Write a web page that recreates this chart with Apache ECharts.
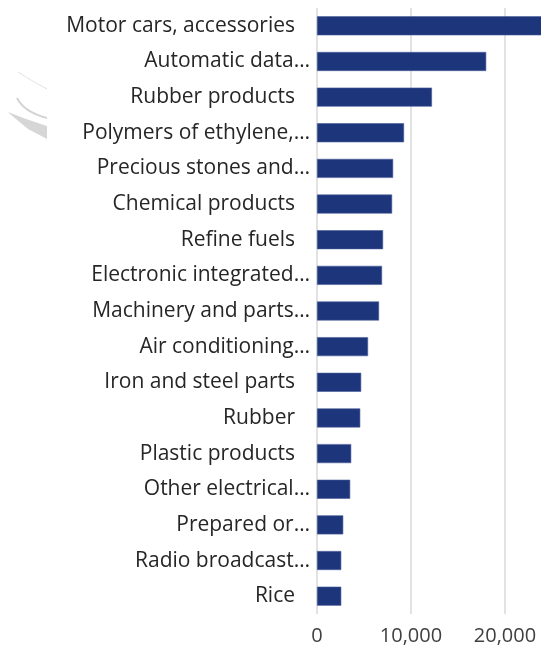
<!DOCTYPE html>
<html>
<head>
<meta charset="utf-8">
<script src="https://cdn.jsdelivr.net/npm/echarts@6/dist/echarts.min.js"></script>
<style>
  html, body { margin: 0; padding: 0; background: #fff; overflow: hidden; }
  #chart { width: 541px; height: 654px; }
</style>
</head>
<body>
<div id="chart"></div>
<script>
// Export products (value), top to bottom
const categories = [
  'Motor cars, accessories',
  'Automatic data…',
  'Rubber products',
  'Polymers of ethylene,…',
  'Precious stones and…',
  'Chemical products',
  'Refine fuels',
  'Electronic integrated…',
  'Machinery and parts…',
  'Air conditioning…',
  'Iron and steel parts',
  'Rubber',
  'Plastic products',
  'Other electrical…',
  'Prepared or…',
  'Radio broadcast…',
  'Rice'
];
const values = [
  25500, 18000, 12230, 9260, 8100, 7990, 7030, 6920, 6600,
  5430, 4700, 4600, 3640, 3530, 2790, 2580, 2580
];
const xTicks = [0, 10000, 20000, 30000];

const chart = echarts.init(document.getElementById('chart'), null, { renderer: 'canvas' });
const FONT = 'Open Sans';
const SIZE = 21;
const TICK_SIZE = 20;

chart.setOption({
  animation: false,
  // plot area runs past the right edge of the canvas; the 30,000 gridline falls outside
  grid: { left: 317, width: 282, top: 8, bottom: 40, containLabel: false, outerBoundsMode: 'none' },
  // faint grey swoosh in the left margin
  graphic: [
    {
      type: 'bezierCurve', silent: true, z: -1,
      shape: { x1: 18, y1: 72, x2: 47, y2: 89, cpx1: 30, cpy1: 80 },
      style: { stroke: '#e2e2e2', lineWidth: 1, fill: null }
    },
    {
      type: 'bezierCurve', silent: true, z: -1,
      shape: { x1: 17, y1: 98, x2: 47, y2: 118, cpx1: 24, cpy1: 112 },
      style: { stroke: '#d4d4d4', lineWidth: 2, fill: null }
    },
    {
      type: 'polygon', silent: true, z: -1,
      shape: { points: [[8, 112], [26, 119], [47, 126], [47, 139], [28, 129], [10, 114]] },
      style: { fill: '#d6d6d6' }
    }
  ],
  xAxis: {
    type: 'value',
    min: xTicks[0],
    max: xTicks[xTicks.length - 1],
    interval: xTicks[1] - xTicks[0],
    axisLine: { show: false },
    axisTick: { show: false },
    splitLine: { show: true, lineStyle: { color: '#d9d9d9', width: 1.5 } },
    axisLabel: {
      margin: 12,
      fontFamily: FONT,
      fontSize: TICK_SIZE,
      color: '#404040',
      formatter: v => v.toLocaleString('en-US')
    }
  },
  yAxis: {
    type: 'category',
    inverse: true,
    data: categories,
    axisLine: { show: false },
    axisTick: { show: false },
    axisLabel: {
      margin: 7,
      fontFamily: FONT,
      fontSize: SIZE,
      color: '#262626',
      formatter: v => v.endsWith('…') ? '{t|' + v + '}' : '{p|' + v + '}',
      rich: {
        t: { fontFamily: FONT, fontSize: SIZE, color: '#262626' },
        p: { fontFamily: FONT, fontSize: SIZE, color: '#262626', padding: [0, 15, 0, 0] }
      }
    }
  },
  series: [{
    type: 'bar',
    data: values,
    barWidth: 19,
    itemStyle: { color: '#1c357b', borderColor: '#4a5c98', borderWidth: 0.6 }
  }]
});
</script>
</body>
</html>
